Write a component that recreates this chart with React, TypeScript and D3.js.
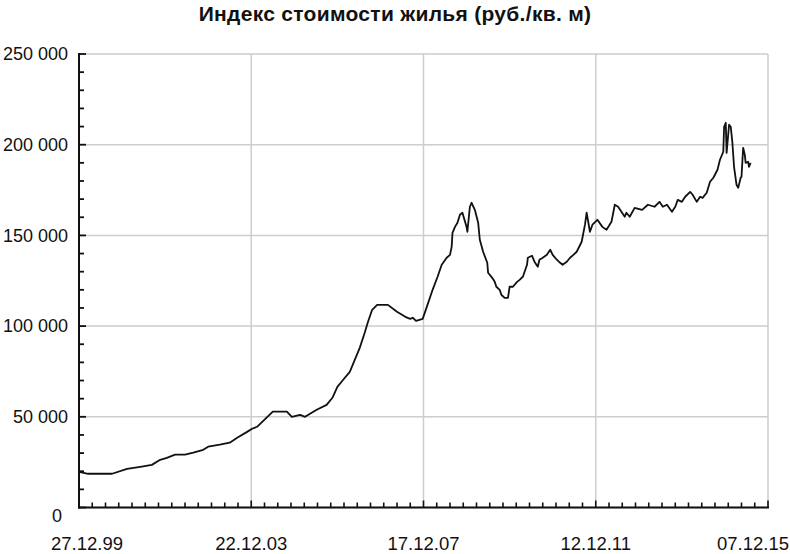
import React, { useEffect, useRef } from "react";
import * as d3 from "d3";

// weekly index
const dates: string[] = [
  "1999-12-27", "2000-03-13", "2000-10-02", "2001-02-05", "2001-05-28", "2001-09-03", "2001-11-12",
  "2002-01-07", "2002-03-18", "2002-06-10", "2002-08-19", "2002-11-11", "2002-12-23",
  "2003-03-31", "2003-06-23", "2003-08-25", "2003-11-17", "2003-12-29",
  "2004-02-09", "2004-04-19", "2004-06-21", "2004-10-18", "2004-11-29",
  "2005-02-07", "2005-03-21", "2005-06-27", "2005-09-19", "2005-11-07", "2005-12-19",
  "2006-02-06", "2006-04-03", "2006-05-15", "2006-06-26", "2006-08-07", "2006-09-04", "2006-10-09", "2006-11-20",
  "2007-02-19", "2007-05-07", "2007-07-16", "2007-08-27", "2007-09-17", "2007-10-15", "2007-12-10",
  "2008-01-14", "2008-03-03", "2008-04-14", "2008-05-19", "2008-06-30", "2008-07-28", "2008-08-11",
  "2008-08-18", "2008-09-08", "2008-09-29", "2008-10-20", "2008-11-10", "2008-12-15", "2008-12-22",
  "2009-01-12", "2009-01-26", "2009-02-23", "2009-03-23", "2009-04-06", "2009-05-04", "2009-06-08",
  "2009-06-15", "2009-07-20", "2009-08-10", "2009-08-24", "2009-09-21", "2009-10-05", "2009-11-02",
  "2009-11-30", "2009-12-14",
  "2010-01-11", "2010-02-15", "2010-03-08", "2010-04-05", "2010-05-10", "2010-05-17", "2010-06-21",
  "2010-07-12", "2010-08-09", "2010-08-23", "2010-09-20", "2010-10-25", "2010-11-22", "2010-12-13",
  "2011-01-17", "2011-02-14", "2011-03-07", "2011-04-11", "2011-05-09", "2011-06-06", "2011-07-04",
  "2011-08-15", "2011-09-12", "2011-09-26", "2011-10-24", "2011-11-14", "2011-12-26",
  "2012-02-06", "2012-03-12", "2012-04-23", "2012-05-21", "2012-06-18", "2012-07-16", "2012-08-13",
  "2012-08-27", "2012-09-24", "2012-11-05",
  "2013-01-07", "2013-02-25", "2013-04-22", "2013-06-03", "2013-07-01", "2013-08-05", "2013-09-16",
  "2013-10-14", "2013-11-04", "2013-12-09",
  "2014-01-06", "2014-02-17", "2014-03-10", "2014-04-14", "2014-05-12", "2014-06-02", "2014-07-07",
  "2014-08-04", "2014-09-01", "2014-10-06", "2014-10-27", "2014-11-24", "2014-12-01", "2014-12-15",
  "2014-12-22",
  "2015-01-12", "2015-01-26", "2015-02-09", "2015-02-23", "2015-03-16", "2015-03-30", "2015-04-20",
  "2015-04-27", "2015-05-11", "2015-05-25", "2015-06-01", "2015-06-22", "2015-06-29", "2015-07-13",
];

// руб./кв. м
const prices: number[] = [
  19700, 18600, 18600, 21300, 22400, 23500, 26300,
  27400, 29100, 29100, 30200, 31800, 33500,
  34600, 35700, 38400, 41700, 43400,
  44500, 48900, 52800, 52800, 50000,
  51100, 50000, 53900, 56600, 60500, 66500,
  70400, 74800, 81400, 88000, 96300, 102400, 109000, 111700,
  111700, 107900, 105100, 104000, 104600, 102900, 104000,
  110600, 120000, 127200, 133800, 137700, 139300, 143700,
  151400, 154700, 157000, 161400, 162500, 154700, 152000,
  165800, 168000, 164100, 157000, 147600, 141000, 134900,
  129400, 126600, 124400, 121700, 120000, 117300, 115600,
  115600, 121700,
  121700, 124400, 125500, 127200, 133800, 137700, 138800,
  135500, 132700, 136600, 137700, 139300, 142100, 139300,
  136600, 134900, 133800, 135500, 137700, 139300, 141000,
  146500, 155900, 162500, 152000, 155900, 158600,
  154700, 153100, 157500, 166900, 165800, 163000, 160300,
  162500, 160300, 165200,
  164100, 166900, 165800, 168500, 165800, 166900, 163000,
  165800, 169600, 168500,
  171300, 174000, 172400, 168500, 171300, 170700, 173500,
  179600, 181800, 186200, 191700, 196100, 209900, 212100,
  195500,
  211000, 209900, 201100, 187800, 177900, 176300, 181800,
  182300, 198300, 194400, 190000, 190600, 187800, 190000,
];

const xTickDates: string[] = ["1999-12-27", "2003-12-22", "2007-12-17", "2011-12-12", "2015-12-07"];
const xTickLabels: string[] = ["27.12.99", "22.12.03", "17.12.07", "12.12.11", "07.12.15"];
const yTicks: number[] = [0, 50000, 100000, 150000, 200000, 250000];
const yTickLabels: string[] = ["0", "50 000", "100 000", "150 000", "200 000", "250 000"];

const TITLE = "Индекс стоимости жилья (руб./кв. м)";

const WIDTH = 790;
const HEIGHT = 554;
const FONT = "'Liberation Sans', Arial, Helvetica, sans-serif";

export default function App() {
  const svgRef = useRef<SVGSVGElement>(null);

  useEffect(() => {
    if (!svgRef.current) return;
    const svg = d3.select(svgRef.current);
    svg.selectAll("*").remove();

    const parse = d3.timeParse("%Y-%m-%d");
    const left = 79;
    const right = 768;
    const top = 54;
    const bottom = 507.5;

    const x = d3
      .scaleTime()
      .domain([parse(xTickDates[0])!, parse(xTickDates[xTickDates.length - 1])!])
      .range([left, right]);
    const y = d3.scaleLinear().domain([0, 250000]).range([bottom, top]);

    svg.append("rect").attr("width", WIDTH).attr("height", HEIGHT).attr("fill", "#fff");

    // title
    svg
      .append("text")
      .attr("x", WIDTH / 2)
      .attr("y", 21)
      .attr("text-anchor", "middle")
      .attr("font-family", FONT)
      .attr("font-size", 21)
      .attr("font-weight", "bold")
      .attr("letter-spacing", 0.3)
      .attr("fill", "#111")
      .text(TITLE);

    // grid
    const grid = svg.append("g").attr("stroke", "#cdcdcd").attr("stroke-width", 1.5);
    yTicks.forEach((v) => {
      grid.append("line").attr("x1", left).attr("x2", right).attr("y1", y(v)).attr("y2", y(v));
    });
    xTickDates.forEach((d) => {
      const xv = x(parse(d)!);
      grid.append("line").attr("x1", xv).attr("x2", xv).attr("y1", top).attr("y2", bottom);
    });

    // series
    const data = dates.map((d, i) => ({ date: parse(d)!, value: prices[i] }));
    const line = d3
      .line<{ date: Date; value: number }>()
      .x((d) => x(d.date))
      .y((d) => y(d.value));
    svg
      .append("path")
      .datum(data)
      .attr("d", line)
      .attr("fill", "none")
      .attr("stroke", "#111")
      .attr("stroke-width", 1.8)
      .attr("stroke-linejoin", "round");

    // axes
    const axes = svg.append("g").attr("stroke", "#111");
    axes
      .append("line")
      .attr("x1", left)
      .attr("x2", left)
      .attr("y1", top - 1)
      .attr("y2", bottom + 1)
      .attr("stroke-width", 2);
    axes
      .append("line")
      .attr("x1", left - 1)
      .attr("x2", right + 1)
      .attr("y1", bottom)
      .attr("y2", bottom)
      .attr("stroke-width", 2);

    // y minor ticks every 10 000
    d3.range(0, 250001, 10000).forEach((v) => {
      const major = v % 50000 === 0;
      axes
        .append("line")
        .attr("x1", left)
        .attr("x2", left + (major ? 7 : 5))
        .attr("y1", y(v))
        .attr("y2", y(v))
        .attr("stroke-width", 1.8);
    });

    // x minor ticks every 16 weeks
    const start = x.domain()[0];
    d3.range(0, 53).forEach((i) => {
      const d = d3.timeDay.offset(start, i * 112);
      const major = i % 13 === 0;
      axes
        .append("line")
        .attr("x1", x(d))
        .attr("x2", x(d))
        .attr("y1", bottom)
        .attr("y2", bottom - (major ? 7 : 5))
        .attr("stroke-width", 1.6);
    });

    // y labels
    yTicks.forEach((v, i) => {
      const isZero = v === 0;
      svg
        .append("text")
        .attr("x", isZero ? 62 : 68)
        .attr("y", y(v) + (isZero ? 8 : 0))
        .attr("dy", "0.35em")
        .attr("text-anchor", "end")
        .attr("font-family", FONT)
        .attr("font-size", 18)
        .attr("fill", "#111")
        .text(yTickLabels[i]);
    });

    // x labels
    xTickDates.forEach((d, i) => {
      const last = i === xTickDates.length - 1;
      const xv = x(parse(d)!) + (i === 0 ? 8 : 0);
      svg
        .append("text")
        .attr("x", last ? WIDTH - 1 : xv)
        .attr("y", 550)
        .attr("text-anchor", last ? "end" : "middle")
        .attr("font-family", FONT)
        .attr("font-size", 18.5)
        .attr("fill", "#111")
        .text(xTickLabels[i]);
    });
  }, []);

  return (
    <svg
      ref={svgRef}
      width={WIDTH}
      height={HEIGHT}
      style={{ position: "absolute", left: 0, top: 0, display: "block" }}
    />
  );
}
